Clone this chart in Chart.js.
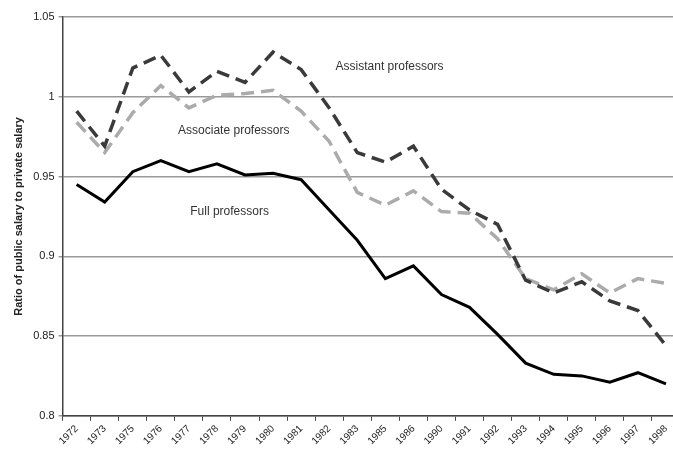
<!DOCTYPE html>
<html>
<head>
<meta charset="utf-8">
<script src="https://cdn.jsdelivr.net/npm/chart.js@4.4.1/dist/chart.umd.min.js"></script>
<style>
  html, body { margin: 0; padding: 0; background: #fff; overflow: hidden; }
  #wrap { width: 680px; height: 456px; }
</style>
</head>
<body>
<div id="wrap"><canvas id="myChart"></canvas></div>
<script>
const years = ['1972', '1973', '1975', '1976', '1977', '1978', '1979', '1980', '1981', '1982', '1983',
               '1985', '1986', '1990', '1991', '1992', '1993', '1994', '1995', '1996', '1997', '1998'];

const assistant = [0.991, 0.969, 1.018, 1.026, 1.003, 1.016, 1.009, 1.028, 1.017, 0.993, 0.965,
                   0.959, 0.969, 0.942, 0.929, 0.920, 0.885, 0.877, 0.884, 0.872, 0.866, 0.844];
const associate = [0.984, 0.965, 0.990, 1.007, 0.993, 1.001, 1.002, 1.004, 0.991, 0.972, 0.940,
                   0.932, 0.941, 0.928, 0.927, 0.911, 0.886, 0.879, 0.889, 0.877, 0.886, 0.883];
const full = [0.945, 0.934, 0.953, 0.960, 0.953, 0.958, 0.951, 0.952, 0.948, 0.929, 0.910,
              0.886, 0.894, 0.876, 0.868, 0.851, 0.833, 0.826, 0.825, 0.821, 0.827, 0.820];

// text labels placed next to each line: [text, x index, y value]
const lineLabels = [
    ['Assistant professors', 11.15, 1.019],
    ['Associate professors', 5.6, 0.979],
    ['Full professors', 5.45, 0.928]
];

const textFont = '"Liberation Sans", Arial, sans-serif';

// writes the series names inside the plot
const lineLabelPlugin = {
    id: 'lineLabels',
    afterDatasetsDraw(chart) {
        const ctx = chart.ctx;
        const x = chart.scales.x;
        const y = chart.scales.y;
        ctx.save();
        ctx.font = '12px ' + textFont;
        ctx.fillStyle = '#333';
        ctx.textAlign = 'center';
        ctx.textBaseline = 'middle';
        lineLabels.forEach(l => {
            const px = x.getPixelForValue(0) + l[1] * (x.getPixelForValue(1) - x.getPixelForValue(0));
            ctx.fillText(l[0], px, y.getPixelForValue(l[2]));
        });
        ctx.restore();
    }
};

function createChart(){
    var ctx = document.getElementById('myChart').getContext('2d');
    var chart = new Chart(ctx, {
        type: 'line',
        data: {
            labels: years,
            datasets: [{
                label: 'Assistant professors',
                data: assistant,
                borderColor: '#3a3a3a',
                borderWidth: 3.5,
                borderDash: [13, 7],
                pointRadius: 0,
                tension: 0,
                fill: false
            }, {
                label: 'Associate professors',
                data: associate,
                borderColor: '#ababab',
                borderWidth: 3.5,
                borderDash: [13, 7],
                pointRadius: 0,
                tension: 0,
                fill: false
            }, {
                label: 'Full professors',
                data: full,
                borderColor: '#000',
                borderWidth: 3,
                pointRadius: 0,
                tension: 0,
                fill: false
            }]
        },
        options: {
            responsive: true,
            maintainAspectRatio: false,
            animation: false,
            layout: { padding: { top: 17, right: 0, left: 12, bottom: 7 } },
            plugins: {
                legend: { display: false },
                tooltip: { enabled: false }
            },
            scales: {
                x: {
                    offset: true,
                    grid: {
                        offset: true,
                        drawOnChartArea: false,
                        color: '#444',
                        tickLength: 5
                    },
                    border: { color: '#444', width: 1.5 },
                    ticks: {
                        color: '#222',
                        font: { family: textFont, size: 10 },
                        minRotation: 45,
                        maxRotation: 45,
                        autoSkip: false,
                        padding: 2
                    }
                },
                y: {
                    min: 0.8,
                    max: 1.05,
                    grid: {
                        color: '#9a9a9a',
                        lineWidth: 1.5,
                        tickLength: 4
                    },
                    border: { color: '#444', width: 1.5 },
                    ticks: {
                        stepSize: 0.05,
                        color: '#222',
                        font: { family: textFont, size: 11 },
                        padding: 4,
                        callback: v => String(Math.round(v * 100) / 100)
                    },
                    title: {
                        display: true,
                        text: 'Ratio of public salary to private salary',
                        color: '#222',
                        font: { family: textFont, size: 11, weight: 'bold' },
                        padding: { top: 0, bottom: 4 }
                    }
                }
            }
        },
        plugins: [lineLabelPlugin]
    });
}

createChart();
</script>
</body>
</html>
